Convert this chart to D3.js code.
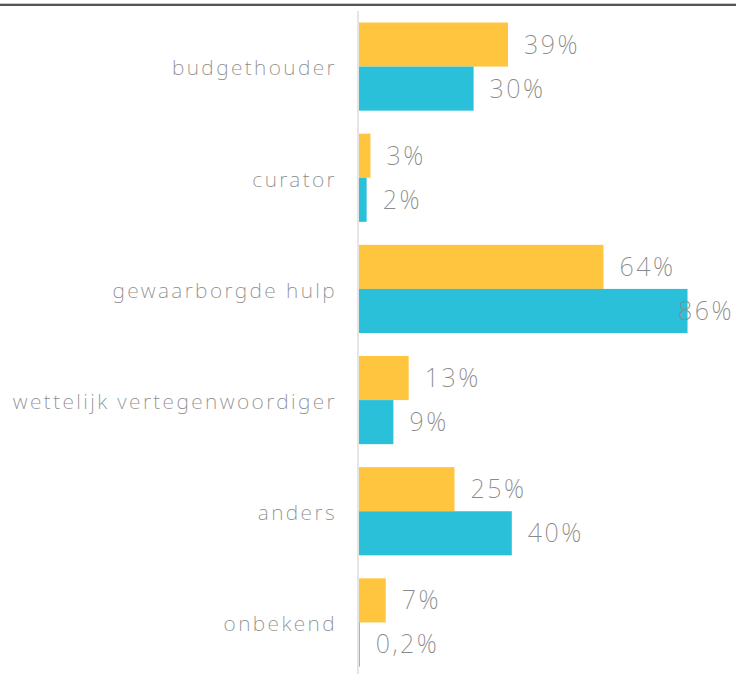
<!DOCTYPE html>
<html><head><meta charset="utf-8">
<script src="https://cdn.jsdelivr.net/npm/d3@7"></script>
<style>
html,body{margin:0;padding:0;background:#fff;}
svg{display:block;}
text{font-family:"Noto Sans","Lato",sans-serif;font-weight:200;fill:#8a8a8a;}
</style></head>
<body>
<svg id="chart" width="736" height="674"></svg>
<script>
const categories = ["budgethouder","curator","gewaarborgde hulp","wettelijk vertegenwoordiger","anders","onbekend"];
const seriesA = [39, 3, 64, 13, 25, 7];
const seriesB = [30, 2, 86, 9, 40, 0.2];
const labelsA = ["39%","3%","64%","13%","25%","7%"];
const labelsB = ["30%","2%","86%","9%","40%","0,2%"];
const colors = ["#FFC53F","#2BC0D9"];

const W = 736, H = 674;
const svg = d3.select("#chart");
const x0 = 359;
const x = d3.scaleLinear().domain([0, 100]).range([x0, x0 + 382]);
const y = d3.scaleBand().domain(categories).range([11, 678]).paddingInner(0.207).paddingOuter(0.1035);
const sub = d3.scaleBand().domain([0,1]).range([0, y.bandwidth()]);

// top rule
svg.append("line").attr("x1",0).attr("x2",W).attr("y1",3.5).attr("y2",3.5).attr("stroke","#c8c8c8").attr("stroke-width",1);
svg.append("line").attr("x1",0).attr("x2",W).attr("y1",5).attr("y2",5).attr("stroke","#555").attr("stroke-width",2);

const rows = categories.map((c,i)=>({c, vals:[seriesA[i], seriesB[i]], labs:[labelsA[i], labelsB[i]]}));

const g = svg.selectAll("g.cat").data(rows).join("g").attr("class","cat")
  .attr("transform", d=>`translate(0,${y(d.c)})`);

g.selectAll("rect").data(d=>d.vals.map((v,k)=>({v,k}))).join("rect")
  .attr("x", x(0)).attr("y", d=>sub(d.k)).attr("height", sub.bandwidth())
  .attr("width", d=>x(d.v)-x(0)).attr("fill", d=>colors[d.k]);

g.selectAll("text.val").data(d=>d.vals.map((v,k)=>({v,k,l:d.labs[k]}))).join("text")
  .attr("class","val")
  .attr("y", d=>sub(d.k)+sub.bandwidth()/2).attr("dy","0.36em")
  .style("font-size","25px").style("letter-spacing","2.5px")
  .text(d=>d.l)
  .attr("x", function(d){ const w=this.getComputedTextLength(); return Math.min(x(d.v)+16, W-2-w); });

// axis line
svg.append("line").attr("x1",x0-1).attr("x2",x0-1).attr("y1",11).attr("y2",H).attr("stroke","#dcdcdc").attr("stroke-width",1.5);

// category labels
svg.selectAll("text.cat").data(categories).join("text").attr("class","cat")
  .attr("x", 337).attr("y", d=>y(d)+y.bandwidth()/2).attr("dy","0.42em")
  .attr("text-anchor","end").style("font-size","21px").style("letter-spacing","2.4px").text(d=>d);
</script>
</body></html>
